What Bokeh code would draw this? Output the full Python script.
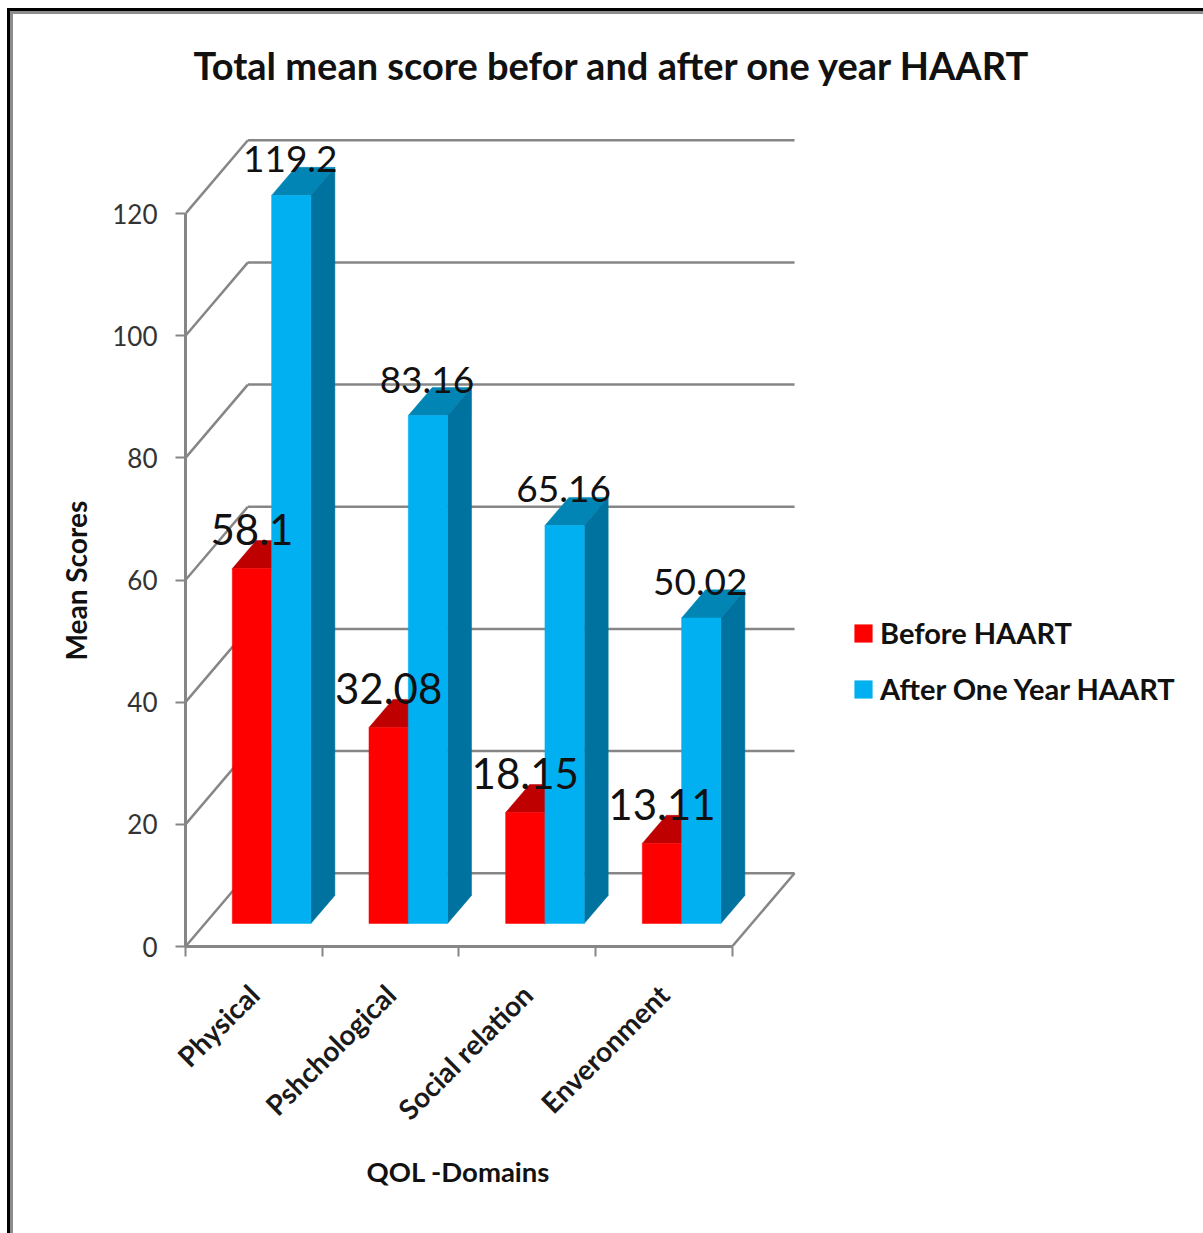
import math
from bokeh.core.properties import value
from bokeh.embed import file_html
from bokeh.models import FixedTicker, Legend, LegendItem, Range1d, Title
from bokeh.plotting import figure
from bokeh.resources import INLINE

categories = ["Physical", "Pshchological", "Social relation", "Enveronment"]
before_haart = [58.1, 32.08, 18.15, 13.11]
after_haart = [119.2, 83.16, 65.16, 50.02]
before_labels = ["58.1", "32.08", "18.15", "13.11"]
after_labels = ["119.2", "83.16", "65.16", "50.02"]
y_ticks = [0, 20, 40, 60, 80, 100, 120]
series_names = ["Before HAART", "After One Year HAART"]

WIDTH, HEIGHT = 1203, 1233
FRAME_LEFT, FRAME_RIGHT, FRAME_TOP, FRAME_BOTTOM = 185, 800, 130, 946
FONT = "Lato"
GRID = "#868686"

# Oblique projection of the chart box, in axis units
WALL_DX, WALL_DY = 0.4565, 12.0
BAR_DX, BAR_DY = 0.1755, 4.6
BAR_W = 0.2875
BASE_DX, BASE_DY = 0.13, 3.77

# Page frame: black rule with a grey inner rule, open on the right and at the foot
page_frame = """
:host::before {
  content: ""; position: absolute; left: 10px; top: 11px; right: 0; bottom: 0;
  border-left: 3px solid #8C8C8C; border-top: 3px solid #8C8C8C;
  pointer-events: none; z-index: 10;
}
:host::after {
  content: ""; position: absolute; left: 7px; top: 8px; right: 0; bottom: 0;
  border-left: 3px solid #000000; border-top: 3px solid #000000;
  pointer-events: none; z-index: 11;
}
"""

p = figure(
    frame_width=FRAME_RIGHT - FRAME_LEFT, frame_height=FRAME_BOTTOM - FRAME_TOP,
    x_range=Range1d(0, 4.5), y_range=Range1d(0, 133.6),
    min_border_left=FRAME_LEFT, min_border_right=WIDTH - FRAME_RIGHT,
    min_border_top=FRAME_TOP, min_border_bottom=HEIGHT - FRAME_BOTTOM,
    output_backend="svg", toolbar_location=None,
    outline_line_color=None, background_fill_color="white",
    stylesheets=[page_frame],
)
p.grid.visible = False


def heading(text, side, offset, standoff, size, vertical_align="bottom"):
    """Bold title set along one side of the plot, measured from the frame's start."""
    p.add_layout(Title(
        text=text, align="left", offset=offset, standoff=standoff, vertical_align=vertical_align,
        text_font=FONT, text_font_style="bold", text_font_size=size, text_color="#111111",
    ), side)


heading("Total mean score befor and after one year HAART", "above", 8, 81, "38px", "top")
heading("Mean Scores", "left", 286, 34, "28px")
heading("QOL -Domains", "below", 181, 24, "27.5px")

# Value axis
p.yaxis.ticker = FixedTicker(ticks=y_ticks)
p.yaxis.bounds = (0, 120)
p.yaxis.axis_line_color = GRID
p.yaxis.axis_line_width = 3
p.yaxis.major_tick_line_color = GRID
p.yaxis.major_tick_line_width = 2
p.yaxis.major_tick_out = 10
p.yaxis.major_tick_in = 0
p.yaxis.minor_tick_line_color = None
p.yaxis.major_label_standoff = 18
p.yaxis.major_label_text_font = FONT
p.yaxis.major_label_text_font_size = "26px"
p.yaxis.major_label_text_color = "#333333"

# Category axis: boundaries get the tick marks, centres get the names
n = len(categories)
centres = [i + 0.5 for i in range(n)]
p.xaxis.ticker = FixedTicker(ticks=centres, minor_ticks=list(range(n + 1)))
p.xaxis.major_label_overrides = {c: name for c, name in zip(centres, categories)}
p.xaxis.bounds = (0, n)
p.xaxis.axis_line_color = GRID
p.xaxis.axis_line_width = 3
p.xaxis.major_tick_line_color = None
p.xaxis.minor_tick_line_color = GRID
p.xaxis.minor_tick_line_width = 2
p.xaxis.minor_tick_out = 10
p.xaxis.minor_tick_in = 0
p.xaxis.major_label_orientation = math.pi / 4
p.xaxis.major_label_standoff = 33
p.xaxis.major_label_text_font = FONT
p.xaxis.major_label_text_font_style = "bold"
p.xaxis.major_label_text_font_size = "28px"
p.xaxis.major_label_text_color = "#1a1a1a"

# Back wall, side wall and floor edges
back_xs = [[WALL_DX, n + WALL_DX] for _ in y_ticks]
back_ys = [[t + WALL_DY, t + WALL_DY] for t in y_ticks]
side_xs = [[0, WALL_DX] for _ in y_ticks] + [[n, n + WALL_DX]]
side_ys = [[t, t + WALL_DY] for t in y_ticks] + [[0, WALL_DY]]
p.multi_line(back_xs, back_ys, line_color=GRID, line_width=2.5)
p.multi_line(side_xs, side_ys, line_color=GRID, line_width=2.5)


def draw_bar(left, height, front, top, side):
    """One extruded column; returns the renderer of its front face."""
    right = left + BAR_W
    low, high = BASE_DY, BASE_DY + height
    p.patch([left, right, right + BAR_DX, left + BAR_DX],
            [high, high, high + BAR_DY, high + BAR_DY],
            fill_color=top, line_color=top, line_width=0.5)
    p.patch([right, right + BAR_DX, right + BAR_DX, right],
            [low, low + BAR_DY, high + BAR_DY, high],
            fill_color=side, line_color=side, line_width=0.5)
    return p.quad(left=left, right=right, bottom=low, top=high,
                  fill_color=front, line_color=front, line_width=0.5)


red_face = blue_face = None
for i in range(n):
    centre = centres[i] + BASE_DX
    red_face = draw_bar(centre - BAR_W, before_haart[i], "#FF0000", "#BF0000", "#A00000")
    blue_face = draw_bar(centre, after_haart[i], "#00B0F0", "#0085B5", "#00729F")

# Value labels sit over the front face of each column
label_x_red = [c + BASE_DX - BAR_W / 2 for c in centres]
label_x_blue = [c + BASE_DX + BAR_W / 2 for c in centres]
p.text(label_x_red, [v + BASE_DY for v in before_haart], text=before_labels,
       text_font=value(FONT), text_font_size="42px", text_color="#111111",
       text_align="center", text_baseline="alphabetic", x_offset=0, y_offset=-39)
p.text(label_x_blue, [v + BASE_DY for v in after_haart], text=after_labels,
       text_font=value(FONT), text_font_size="37px", text_color="#111111",
       text_align="center", text_baseline="alphabetic", x_offset=-1, y_offset=-36)

legend = Legend(
    items=[LegendItem(label=series_names[0], renderers=[red_face]),
           LegendItem(label=series_names[1], renderers=[blue_face])],
    location=(52, 240), orientation="vertical",
    background_fill_alpha=0, border_line_color=None,
    glyph_width=22, glyph_height=22, label_standoff=6, spacing=21,
    margin=0, padding=0,
    label_text_font=FONT, label_text_font_style="bold",
    label_text_font_size="29px", label_text_color="#111111",
)
p.add_layout(legend, "right")

open("out.html", "w").write(file_html(p, INLINE))
